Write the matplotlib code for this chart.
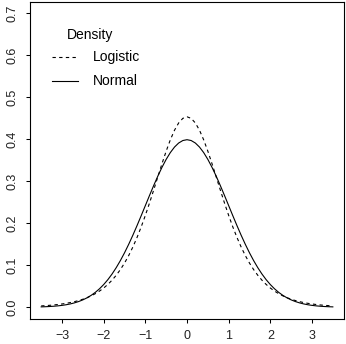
import matplotlib
matplotlib.use("Agg")
import matplotlib.pyplot as plt
from matplotlib.lines import Line2D

plt.rcParams['font.family'] = ['Liberation Sans', 'DejaVu Sans']

# x grid (-3.5 .. 3.5, step 0.1) and the two density curves
x_half = [0.0, 0.1, 0.2, 0.3, 0.4, 0.5, 0.6, 0.7, 0.8, 0.9, 1.0, 1.1, 1.2, 1.3,
          1.4, 1.5, 1.6, 1.7, 1.8, 1.9, 2.0, 2.1, 2.2, 2.3, 2.4, 2.5, 2.6, 2.7,
          2.8, 2.9, 3.0, 3.1, 3.2, 3.3, 3.4, 3.5]
normal_half = [0.398942, 0.396953, 0.391043, 0.381388, 0.368270, 0.352065,
               0.333225, 0.312254, 0.289692, 0.266085, 0.241971, 0.217852,
               0.194186, 0.171369, 0.149727, 0.129518, 0.110921, 0.094049,
               0.078950, 0.065616, 0.053991, 0.043984, 0.035475, 0.028327,
               0.022395, 0.017528, 0.013583, 0.010421, 0.007915, 0.005953,
               0.004432, 0.003267, 0.002384, 0.001723, 0.001232, 0.000873]
logistic_half = [0.453450, 0.449741, 0.438854, 0.421474, 0.398647, 0.371649,
                 0.341842, 0.310551, 0.278966, 0.248068, 0.218616, 0.191137,
                 0.165956, 0.143230, 0.122969, 0.105105, 0.089496, 0.075955,
                 0.064287, 0.054283, 0.045747, 0.038488, 0.032336, 0.027135,
                 0.022748, 0.019055, 0.015950, 0.013344, 0.011158, 0.009326,
                 0.007792, 0.006509, 0.005436, 0.004539, 0.003789, 0.003163]

# curves are symmetric about 0
x = [-v for v in reversed(x_half[1:])] + x_half
normal = list(reversed(normal_half[1:])) + normal_half
logistic = list(reversed(logistic_half[1:])) + logistic_half

xticks = [-3, -2, -1, 0, 1, 2, 3]
yticks = [0.0, 0.1, 0.2, 0.3, 0.4, 0.5, 0.6, 0.7]
ytick_labels = ["0.0", "0.1", "0.2", "0.3", "0.4", "0.5", "0.6", "0.7"]
legend_title = "Density"
legend_labels = ["Logistic", "Normal"]

W, H = 346, 344
fig = plt.figure(figsize=(W / 100, H / 100), dpi=100)
ax = fig.add_axes([29.5 / W, 1 - 319 / H, (344.5 - 29.5) / W, (319 - 1.5) / H])

lw = 0.8
dash = (0, (3, 3))
ax.plot(x, logistic, color='black', lw=lw, linestyle=dash)
ax.plot(x, normal, color='black', lw=lw, linestyle='-')

ax.set_xlim(-3.78, 3.78)
ax.set_ylim(-0.028, 0.728)
ax.set_xticks(xticks)
ax.set_xticklabels([("\u2212%d" % -t) if t < 0 else str(t) for t in xticks])
ax.set_yticks(yticks)
ax.set_yticklabels(ytick_labels, rotation=90, va='center')

fs = 9
ax.tick_params(axis='both', direction='out', length=2.6, width=0.75,
               labelsize=fs, color='black', labelcolor='#222222')
ax.tick_params(axis='x', pad=5.5)
ax.tick_params(axis='y', pad=5.0)
for s in ax.spines.values():
    s.set_linewidth(0.8)
    s.set_color('black')

# legend (pixel positions from the top-left of the figure)
def fx(px):
    return px / W

def fy(py):
    return 1 - py / H

lfs = 10
fig.text(fx(66.5), fy(34.5), legend_title, fontsize=lfs, va='center', ha='left')
rows = [(57.0, dash), (81.0, '-')]
for (yy, ls), lab in zip(rows, legend_labels):
    fig.add_artist(Line2D([fx(52), fx(77.5)], [fy(yy), fy(yy)], color='black',
                          lw=lw, linestyle=ls, transform=fig.transFigure))
    fig.text(fx(92.5), fy(yy), lab, fontsize=lfs, va='center', ha='left')

fig.savefig("out.png", dpi=100)
